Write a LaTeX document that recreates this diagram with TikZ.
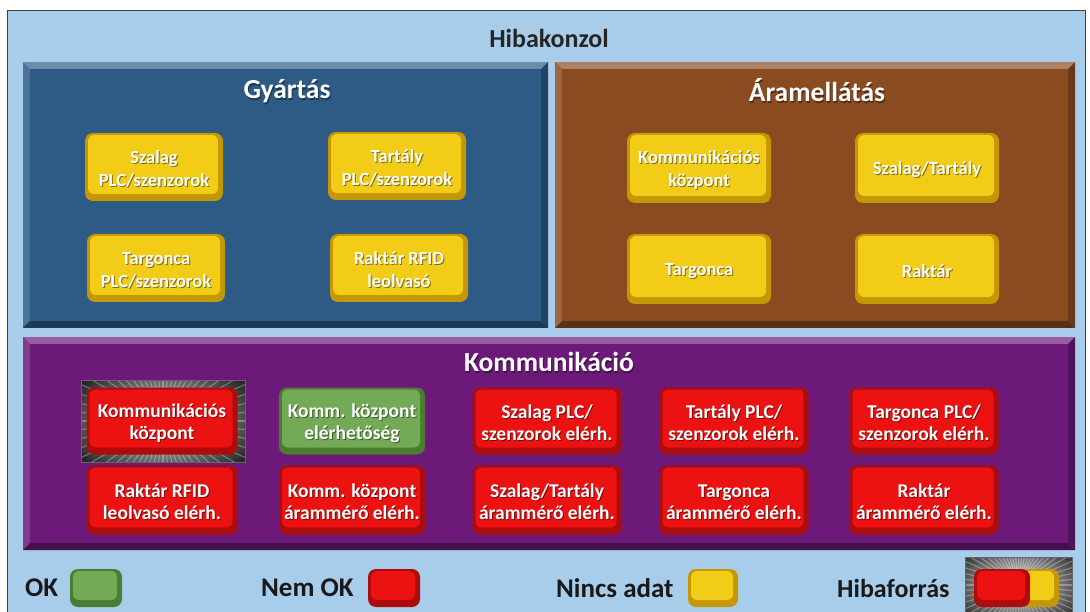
\documentclass[tikz,border=0pt]{standalone}
\usepackage{fontspec}
\setmainfont{Carlito}
\definecolor{bgblue}{RGB}{168,205,235}
\definecolor{gyblue}{RGB}{45,91,134}
\definecolor{panbrown}{RGB}{139,75,33}
\definecolor{panpurple}{RGB}{108,25,121}
\definecolor{yface}{RGB}{242,204,22}
\definecolor{yedge}{RGB}{196,152,4}
\definecolor{rface}{RGB}{236,18,18}
\definecolor{redge}{RGB}{172,12,12}
\definecolor{gface}{RGB}{115,170,85}
\definecolor{gedge}{RGB}{74,124,50}

\tikzset{
  btntext/.style={font=\bfseries\fontsize{18.5}{23}\selectfont, align=center, text=white, inner sep=0pt},
  btnshadow/.style={btntext, text=black, opacity=0.45},
  kbtn/.style={font=\bfseries\fontsize{19.5}{22}\selectfont},
  ptitle/.style={font=\bfseries\fontsize{27.5}{30}\selectfont, text=white, inner sep=0pt},
  ltext/.style={font=\bfseries\fontsize{27}{30}\selectfont, text=black!90, inner sep=0pt},
}

% bevelled panel: x1 y1 x2 y2 colour
\newcommand\panel[5]{%
  \fill[#5!70!white] (#1,#2) rectangle (#3,#4);
  \fill[#5!85!white] (#1,#2) -- ({#1+7},{#2+7}) -- ({#1+7},{#4-7}) -- (#1,#4) -- cycle;
  \fill[#5!75!black] (#3,#2) -- ({#3-7},{#2+7}) -- ({#3-7},{#4-7}) -- (#3,#4) -- cycle;
  \fill[#5!65!black] (#1,#4) -- ({#1+7},{#4-7}) -- ({#3-7},{#4-7}) -- (#3,#4) -- cycle;
  \fill[#5] ({#1+7},{#2+7}) rectangle ({#3-7},{#4-7});
}

% raised button: name, cx, cy, w, h, colour prefix, text, extra text style
\newcommand\btn[8]{%
  \fill[#6edge, rounded corners=8pt] ({#2-#4/2},{#3-#5/2}) rectangle ({#2+#4/2},{#3+#5/2});
  \fill[#6face, rounded corners=6pt] ({#2-#4/2+3},{#3-#5/2+2}) rectangle ({#2+#4/2-5},{#3+#5/2-7});
  \node[btnshadow, #8] at ({#2+1},{#3+3}) {#7};
  \node[btntext, #8] (#1) at (#2,{#3+2}) {#7};
}

% glowing frame marking a fault source: x1 y1 x2 y2
\newcommand\halo[4]{%
  \begin{scope}
    \clip (#1,#2) rectangle (#3,#4);
    \shade[inner color=gray!25, outer color=black!85] ({#1-20},{#2-20}) rectangle ({#3+20},{#4+20});
    \foreach \a in {0,6,...,359}
      \draw[white, opacity=0.3, line width=1.1pt] ({(#1+#3)/2},{(#2+#4)/2}) -- +(\a:160);
  \end{scope}
  \draw[black!60, line width=0.6pt] (#1,#2) rectangle (#3,#4);
}

\begin{document}
\begin{tikzpicture}[x=1pt,y=-1pt]
\useasboundingbox (0,0) rectangle (1090,612);
\fill[white] (0,0) rectangle (1090,612);

% console frame
\fill[bgblue] (7,11) rectangle (1085,613);
\draw[black!75, line width=1pt] (7,613) -- (7,11) -- (1085,11) -- (1085,613);
\node[ltext, text=black!85, font=\bfseries\fontsize{26}{30}\selectfont] (title) at (549,38) {Hibakonzol};

% section panels
\panel{23}{62}{548}{328}{gyblue}
\panel{555}{62}{1075}{328}{panbrown}
\panel{23}{337}{1075}{550}{panpurple}

\node[ptitle, text=black, opacity=0.4] at (288,93) {Gyártás};
\node[ptitle] (gyartas) at (287,91) {Gyártás};
\node[ptitle, text=black, opacity=0.4] at (818,92) {Áramellátás};
\node[ptitle] (aram) at (817,90) {Áramellátás};
\node[ptitle, text=black, opacity=0.4] at (550,364) {Kommunikáció};
\node[ptitle] (komm) at (549,362) {Kommunikáció};

% production
\btn{g1}{154}{167}{138}{68}{y}{Szalag\\PLC/szenzorok}{}
\btn{g2}{397}{166}{138}{68}{y}{Tartály\\PLC/szenzorok}{}
\btn{g3}{156}{268}{138}{68}{y}{Targonca\\PLC/szenzorok}{}
\btn{g4}{399}{268}{138}{68}{y}{Raktár RFID\\leolvasó}{}

% power supply
\btn{a1}{699}{168}{144}{70}{y}{Kommunikációs\\központ}{}
\btn{a2}{927}{168}{144}{70}{y}{Szalag/Tartály}{}
\btn{a3}{699}{269}{144}{70}{y}{Targonca}{}
\btn{a4}{927}{269}{144}{70}{y}{Raktár}{}

% communication
\halo{81}{380}{245}{462}
\btn{k1}{162}{421}{151}{67}{r}{Kommunikációs\\központ}{kbtn}
\btn{k2}{352}{421}{146}{67}{g}{Komm. központ\\elérhetőség}{kbtn}
\btn{k3}{547}{421}{149}{67}{r}{Szalag PLC/\\szenzorok elérh.}{kbtn}
\btn{k4}{734}{421}{149}{67}{r}{Tartály PLC/\\szenzorok elérh.}{kbtn}
\btn{k5}{924}{421}{149}{67}{r}{Targonca PLC/\\szenzorok elérh.}{kbtn}
\btn{k6}{162}{500}{151}{69}{r}{Raktár RFID\\leolvasó elérh.}{kbtn}
\btn{k7}{352}{500}{146}{69}{r}{Komm. központ\\árammérő elérh.}{kbtn}
\btn{k8}{547}{500}{149}{69}{r}{Szalag/Tartály\\árammérő elérh.}{kbtn}
\btn{k9}{734}{500}{149}{69}{r}{Targonca\\árammérő elérh.}{kbtn}
\btn{k10}{924}{500}{149}{69}{r}{Raktár\\árammérő elérh.}{kbtn}

% legend
\node[ltext, anchor=west] (lok) at (25,588) {OK};
\btn{sok}{96}{588}{52}{38}{g}{}{}
\node[ltext, anchor=west] (lnok) at (261,588) {Nem OK};
\btn{snok}{394}{588}{52}{38}{r}{}{}
\node[ltext, anchor=west] (lnd) at (556,588) {Nincs adat};
\btn{snd}{713}{588}{50}{38}{y}{}{}
\node[ltext, anchor=west, font=\bfseries\fontsize{26}{30}\selectfont] (lhf) at (837,588) {Hibaforrás};
\halo{965}{557}{1072}{613}
\btn{shfy}{1040}{588}{38}{38}{y}{}{}
\btn{shfr}{1002}{588}{56}{38}{r}{}{}
\end{tikzpicture}
\end{document}
